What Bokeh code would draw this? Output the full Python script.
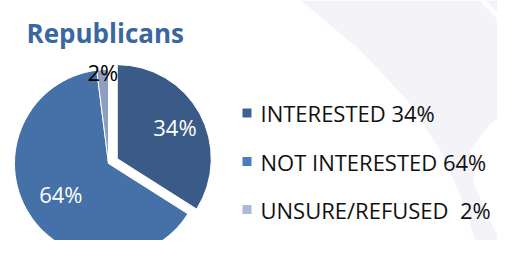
import math
from bokeh.plotting import figure
from bokeh.models import Range1d, ColumnDataSource
from bokeh.core.properties import value
from bokeh.embed import file_html
from bokeh.resources import INLINE

# ---- data ----
title_text = "Republicans"
categories = ["INTERESTED", "NOT INTERESTED", "UNSURE/REFUSED"]
percents = [34, 64, 2]
legend_labels = ["INTERESTED 34%", "NOT INTERESTED 64%", "UNSURE/REFUSED\u00a0 2%"]

# ---- style / layout ----
slice_colors = ["#3A5B88", "#4571A8", "#8E9EBF"]
legend_colors = ["#3D6195", "#4A7DBE", "#A8B9D9"]
title_color = "#3A67A0"
label_colors = ["white", "white", "black"]
W, H = 497, 240
cx, cy_ref, R = 108, 163, 94
explode = [10, 0, 0]
label_rfrac = [0.70, 0.60, 0.97]
FONT = "Open Sans"

def Y(yref):
    return 256 - yref

p = figure(width=W, height=H, x_range=Range1d(0, W), y_range=Range1d(256 - H, 256),
           x_axis_type=None, y_axis_type=None, toolbar_location=None,
           output_backend="svg", min_border=0, outline_line_color=None,
           background_fill_color="white", border_fill_color="white")
p.grid.visible = False

# subtle background swoosh (decoration)
p.patch([300, 513, 513, 488, 470, 474, 492, 508, 480, 462, 440, 407, 360],
        [Y(v) for v in [0, 0, 105, 125, 150, 185, 225, 256, 256, 200, 150, 100, 50]],
        fill_color="#F3F3F8", line_color=None)
p.line([482, 513], [Y(0), Y(32)], line_color="white", line_width=5, line_alpha=0.9)

# pie wedges
total = sum(percents)
cum = 0.0
wx, wy, sa, ea, lx, ly = [], [], [], [], [], []
for i, v in enumerate(percents):
    a0 = 90 - 360 * cum / total
    cum += v
    a1 = 90 - 360 * cum / total
    mid = math.radians((a0 + a1) / 2)
    ox = cx + explode[i] * math.cos(mid)
    oy = Y(cy_ref) + explode[i] * math.sin(mid)
    wx.append(ox); wy.append(oy)
    sa.append(math.radians(a1)); ea.append(math.radians(a0))
    lx.append(ox + label_rfrac[i] * R * math.cos(mid))
    ly.append(oy + label_rfrac[i] * R * math.sin(mid))

src = ColumnDataSource(dict(x=wx, y=wy, sa=sa, ea=ea, color=slice_colors,
                            lx=lx, ly=ly, lab=[f"{v}%" for v in percents], lc=label_colors))
p.wedge(x="x", y="y", radius=R, start_angle="sa", end_angle="ea", fill_color="color",
        line_color="white", line_width=1, source=src)
p.text(x="lx", y="ly", text="lab", text_color="lc", text_font=value(FONT),
       text_font_size=value("22px"), text_align="center", text_baseline="middle", source=src)

# title
p.text(x=[26], y=[Y(32)], text=[title_text], text_color=title_color, text_font=value(FONT),
       text_font_size=value("26px"), text_font_style="bold", text_align="left",
       text_baseline="alphabetic")

# legend
row_y = [112.5, 161, 209]
lsrc = ColumnDataSource(dict(x=[246.5] * 3, y=[Y(r) for r in row_y], c=legend_colors,
                             tx=[260] * 3, ty=[Y(r) for r in row_y], t=legend_labels))
p.rect(x="x", y="y", width=9, height=9, fill_color="c", line_color=None, source=lsrc)
p.text(x="tx", y="ty", text="t", text_color="#111111", text_font=value(FONT),
       text_font_size=value("22px"), text_align="left", text_baseline="middle", source=lsrc)

open("out.html", "w").write(file_html(p, INLINE))
